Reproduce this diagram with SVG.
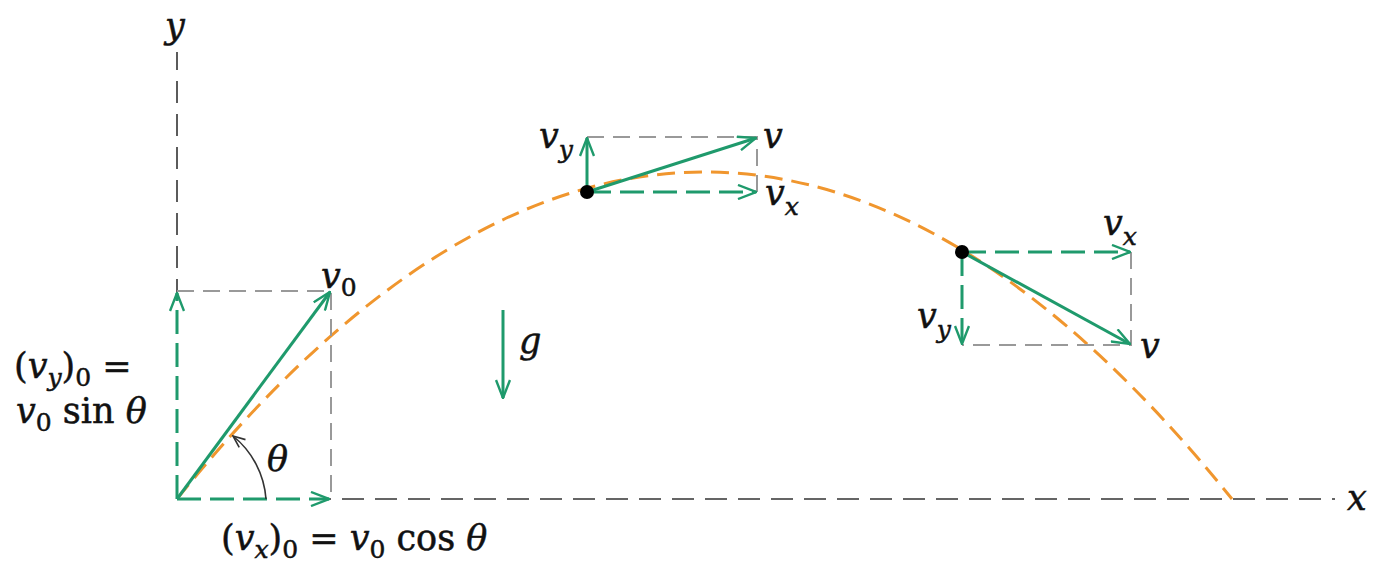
<svg xmlns="http://www.w3.org/2000/svg" width="1374" height="562" viewBox="0 0 1374 562">
<style>
.axis{stroke:#333;stroke-width:1.6;stroke-dasharray:22 11;fill:none}
.box{stroke:#999;stroke-width:2;stroke-dasharray:17 9;fill:none}
.gd{stroke:#1f9a6c;stroke-width:3;stroke-dasharray:24 9;fill:none}
.gs{stroke:#1f9a6c;stroke-width:3;fill:none}
.traj{stroke:#f0962e;stroke-width:3;stroke-dasharray:18 9;fill:none}
text{font-family:"DejaVu Serif","Liberation Serif",serif;fill:#111;stroke:#111;stroke-width:0.5}
.it{font-style:italic}
.m{font-size:35px}
.s{font-size:25px}
</style>
<defs>
<marker id="ah" viewBox="0 0 20 16" markerWidth="20" markerHeight="16" refX="19" refY="8" orient="auto" markerUnits="userSpaceOnUse">
<path d="M1,1 L19,8 L1,15" fill="none" stroke="#1f9a6c" stroke-width="2.4"/>
</marker>
<marker id="ahk" viewBox="0 0 14 12" markerWidth="14" markerHeight="12" refX="13" refY="6" orient="auto" markerUnits="userSpaceOnUse">
<path d="M1,1 L13,6 L1,11" fill="none" stroke="#333" stroke-width="1.6"/>
</marker>
</defs>

<g id="axes">
<path class="axis" d="M177,499 L177,52"/>
<path class="axis" d="M177,499 L1335,499"/>
<text class="it m" x="165" y="38">y</text>
<text class="it m" x="1347" y="510">x</text>
</g>

<g id="trajectory">
<path class="traj" d="M177,499 Q704.5,-155 1232,499"/>
</g>

<g id="connectors">
<path class="box" d="M177,291 L331,291 L331,499"/>
<path class="gd" d="M177,499 L177,293" marker-end="url(#ah)"/>
<path class="gd" d="M177,499 L329,499" marker-end="url(#ah)"/>
<path class="gs" d="M177,499 L330,292" marker-end="url(#ah)"/>
<path d="M266,499 A89,89 0 0 0 233,436" fill="none" stroke="#333" stroke-width="1.6" marker-end="url(#ahk)"/>
<path class="box" d="M587,137 L757,137 L757,192"/>
<path class="gs" d="M587,192 L587,138" marker-end="url(#ah)"/>
<path class="gd" d="M587,192 L756,192" marker-end="url(#ah)"/>
<path class="gs" d="M587,192 L756,138" marker-end="url(#ah)"/>
<path class="box" d="M1131,252 L1131,345 L962,345"/>
<path class="gd" d="M962,252 L1130,252" marker-end="url(#ah)"/>
<path class="gd" d="M962,252 L962,344" marker-end="url(#ah)"/>
<path class="gs" d="M962,252 L1130,344" marker-end="url(#ah)"/>
<path class="gs" d="M503,310 L503,398" marker-end="url(#ah)"/>
</g>

<g id="points">
<circle cx="587" cy="192" r="7" fill="#000"/>
<circle cx="962" cy="252" r="7" fill="#000"/>
</g>

<g id="labels">
<text class="m" x="321" y="288"><tspan class="it">v</tspan><tspan class="s" dy="8">0</tspan></text>
<text class="m it" x="519" y="353">g</text>
<text class="m it" x="267" y="471">θ</text>
<text class="m" x="14" y="378">(<tspan class="it">v</tspan><tspan class="s it" dy="8">y</tspan><tspan dy="-8">)</tspan><tspan class="s" dy="8">0</tspan><tspan dy="-8"> =</tspan></text>
<text class="m" x="16" y="423"><tspan class="it">v</tspan><tspan class="s" dy="8">0</tspan><tspan dy="-8"> sin </tspan><tspan class="it">θ</tspan></text>
<text class="m" x="221" y="550">(<tspan class="it">v</tspan><tspan class="s it" dy="8">x</tspan><tspan dy="-8">)</tspan><tspan class="s" dy="8">0</tspan><tspan dy="-8"> = </tspan><tspan class="it">v</tspan><tspan class="s" dy="8">0</tspan><tspan dy="-8"> cos </tspan><tspan class="it">θ</tspan></text>
<text class="m" x="539" y="148"><tspan class="it">v</tspan><tspan class="s it" dy="10">y</tspan></text>
<text class="m it" x="763" y="148">v</text>
<text class="m" x="765" y="205"><tspan class="it">v</tspan><tspan class="s it" dy="10">x</tspan></text>
<text class="m" x="1103" y="235"><tspan class="it">v</tspan><tspan class="s it" dy="10">x</tspan></text>
<text class="m" x="917" y="328"><tspan class="it">v</tspan><tspan class="s it" dy="10">y</tspan></text>
<text class="m it" x="1140" y="358">v</text>
</g>
</svg>
